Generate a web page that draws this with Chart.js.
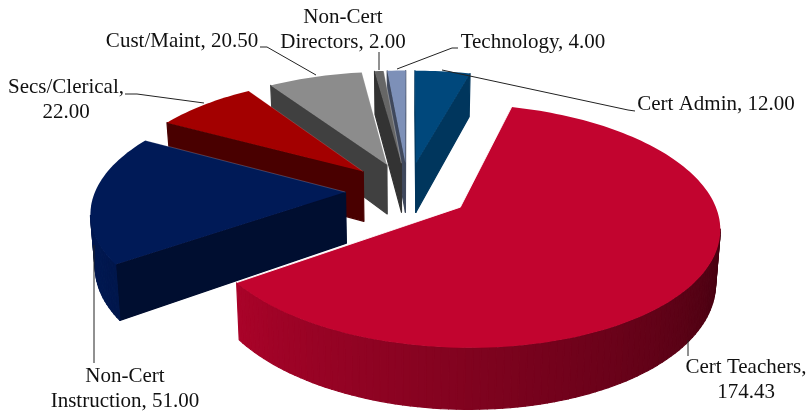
<!DOCTYPE html>
<html>
<head>
<meta charset="utf-8">
<style>
  html, body { margin: 0; padding: 0; background: #fff; }
  #wrap { width: 809px; height: 412px; }
</style>
<script src="https://cdn.jsdelivr.net/npm/chart.js@4/dist/chart.umd.js"></script>
</head>
<body>
<div id="wrap"><canvas id="myChart" width="809" height="412"></canvas></div>
<script>
// data
const categories = ['Cert Admin', 'Cert Teachers', 'Non-Cert Instruction', 'Secs/Clerical', 'Cust/Maint', 'Non-Cert Directors', 'Technology'];
const values = [12, 174.43, 51, 22, 20.5, 2, 4];

// styling
const sliceColors = ['#00487c', '#c2042f', '#001a57', '#a30000', '#8c8c8c', '#666666', '#7d90b8'];
const faceShade = [0.75, 0.5, 0.55, 0.45, 0.46, 0.5, 0.5];
const edgeAlpha = [0, 0.85, 0.2, 0.15, 0.15, 0.3, 0.3];

// label boxes: centre x, first line y, where the text wraps, leader polyline
const labelLayout = [
  { x: 716, y: 104, leader: [[442, 70], [628, 110], [635, 111]] },
  { x: 746, y: 367, wrap: 'Cert Teachers,', leader: [[688, 340], [688, 356]] },
  { x: 125, y: 376, wrap: 'Non-Cert', leader: [[94, 245], [94, 363]] },
  { x: 66, y: 87, wrap: 'Secs/Clerical,', leader: [[125, 94], [137, 94], [204, 103]] },
  { x: 182, y: 41, leader: [[260, 47], [267, 47], [316, 75]] },
  { x: 343, y: 17, wrap: 'Non-Cert', leader: [[379, 52], [379, 70]] },
  { x: 533, y: 42, leader: [[397, 69], [452, 48], [458, 48]] }
];

// 3d view of the pie plane
const view = { cx: 408, cy: 190.5, rx: 250, ry: 114, persp: 0.15, depth: 51, shrink: 0.985, explode: 0.25 };

function project(u, v) {
  const s = 1 / (1 - view.persp * v);
  return { x: view.cx + view.rx * u * s, y: view.cy + view.ry * v * s, s: s };
}
function lower(p) {
  return { x: view.cx + (p.x - view.cx) * view.shrink, y: p.y + view.depth * p.s };
}
function shade(hex, f) {
  const n = parseInt(hex.slice(1), 16);
  const ch = [(n >> 16) & 255, (n >> 8) & 255, n & 255].map(c => Math.round(c * f));
  return 'rgb(' + ch.join(',') + ')';
}
function quad(ctx, a, b, color) {
  const a2 = lower(a), b2 = lower(b);
  ctx.beginPath();
  ctx.moveTo(a.x, a.y);
  ctx.lineTo(b.x, b.y);
  ctx.lineTo(b2.x, b2.y);
  ctx.lineTo(a2.x, a2.y);
  ctx.closePath();
  ctx.fillStyle = color;
  ctx.strokeStyle = color;
  ctx.lineWidth = 1.2;
  ctx.lineJoin = 'round';
  ctx.fill();
  ctx.stroke();
}
// wall brightness along the rim, lit from the left
function rimShade(angle) {
  const cw = angle * 180 / Math.PI + 90;
  return Math.min(0.92, Math.max(0.3, 0.35 + (cw - 100) / 135 * 0.53));
}

function drawSlice(ctx, arc, i) {
  const color = arc.options.backgroundColor;
  const mid = (arc.startAngle + arc.endAngle) / 2;
  const ou = Math.cos(mid) * view.explode, ov = Math.sin(mid) * view.explode;
  const tip = project(ou, ov);
  const steps = Math.max(2, Math.ceil((arc.endAngle - arc.startAngle) / (Math.PI / 120)));
  const rim = [];
  for (let k = 0; k <= steps; k++) {
    const a = arc.startAngle + (arc.endAngle - arc.startAngle) * k / steps;
    rim.push({ a: a, p: project(ou + Math.cos(a), ov + Math.sin(a)) });
  }
  const first = rim[0].p, last = rim[steps].p;

  // walls only where the edge runs right to left, those face the viewer
  if (first.x < tip.x) quad(ctx, tip, first, shade(color, faceShade[i]));
  if (tip.x < last.x) quad(ctx, last, tip, shade(color, faceShade[i]));
  for (let k = 0; k < steps; k++) {
    if (rim[k + 1].p.x < rim[k].p.x) quad(ctx, rim[k].p, rim[k + 1].p, shade(color, rimShade(rim[k].a)));
  }

  // top face
  ctx.beginPath();
  ctx.moveTo(tip.x, tip.y);
  rim.forEach(r => ctx.lineTo(r.p.x, r.p.y));
  ctx.closePath();
  ctx.fillStyle = color;
  ctx.fill();

  // thin light edge where the top meets what is behind it
  ctx.strokeStyle = 'rgba(255,255,255,' + edgeAlpha[i] + ')';
  ctx.lineWidth = 1;
  ctx.beginPath();
  if (first.x >= tip.x) { ctx.moveTo(tip.x, tip.y); ctx.lineTo(first.x, first.y); }
  if (tip.x >= last.x) { ctx.moveTo(last.x, last.y); ctx.lineTo(tip.x, tip.y); }
  ctx.stroke();
}

const pie3d = {
  id: 'pie3d',
  beforeDatasetsDraw(chart) {
    const ctx = chart.ctx;
    const arcs = chart.getDatasetMeta(0).data.map((arc, i) => ({ arc: arc, i: i }));
    // back to front
    arcs.sort((a, b) => Math.sin((a.arc.startAngle + a.arc.endAngle) / 2) - Math.sin((b.arc.startAngle + b.arc.endAngle) / 2));
    ctx.save();
    arcs.forEach(o => drawSlice(ctx, o.arc, o.i));
    ctx.restore();
    return false;
  },
  afterDraw(chart) {
    const ctx = chart.ctx;
    ctx.save();
    ctx.font = '21px "Liberation Serif"';
    ctx.textAlign = 'center';
    ctx.textBaseline = 'middle';
    categories.forEach((cat, i) => {
      const box = labelLayout[i];
      const text = cat + ', ' + values[i].toFixed(2);
      let lines = [text];
      if (box.wrap) lines = [box.wrap, text.slice(box.wrap.length).trim()];
      ctx.fillStyle = '#111111';
      lines.forEach((line, k) => ctx.fillText(line, box.x, box.y + k * 25));
      ctx.strokeStyle = '#222222';
      ctx.lineWidth = 1;
      ctx.beginPath();
      box.leader.forEach((pt, k) => k ? ctx.lineTo(pt[0], pt[1]) : ctx.moveTo(pt[0], pt[1]));
      ctx.stroke();
    });
    ctx.restore();
  }
};

new Chart(document.getElementById('myChart'), {
  type: 'pie',
  data: {
    labels: categories,
    datasets: [{ data: values, backgroundColor: sliceColors, borderWidth: 0 }]
  },
  options: {
    responsive: false,
    animation: false,
    plugins: { legend: { display: false }, tooltip: { enabled: false } }
  },
  plugins: [pie3d]
});
</script>
</body>
</html>
